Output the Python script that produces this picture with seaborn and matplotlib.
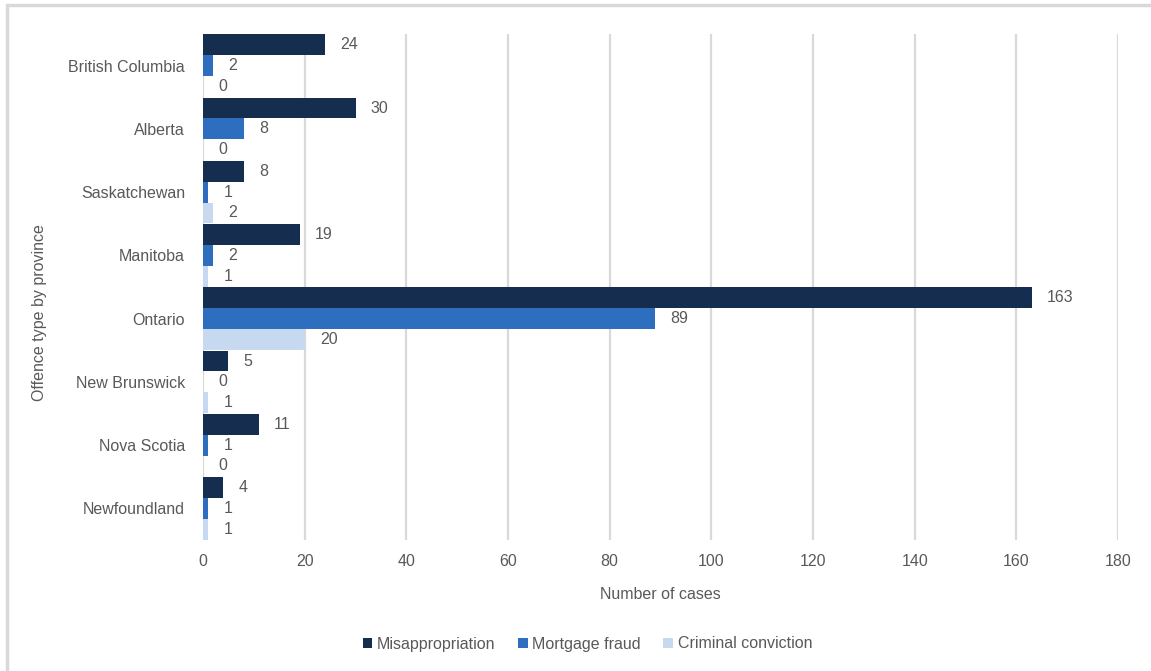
import matplotlib
matplotlib.use("Agg")
import matplotlib.pyplot as plt
import seaborn as sns
import pandas as pd
from matplotlib.patches import Rectangle

provinces = ["British Columbia", "Alberta", "Saskatchewan", "Manitoba", "Ontario",
             "New Brunswick", "Nova Scotia", "Newfoundland"]
misappropriation = [24, 30, 8, 19, 163, 5, 11, 4]
mortgage_fraud = [2, 8, 1, 2, 89, 0, 1, 1]
criminal_conviction = [0, 0, 2, 1, 20, 1, 0, 1]
series_names = ["Misappropriation", "Mortgage fraud", "Criminal conviction"]
colors = ["#152E4F", "#2E6EBE", "#C6D9F0"]
x_ticks = [0, 20, 40, 60, 80, 100, 120, 140, 160, 180]

rows = []
for name, vals in zip(series_names, [misappropriation, mortgage_fraud, criminal_conviction]):
    for p, v in zip(provinces, vals):
        rows.append({"Province": p, "Offence": name, "Cases": v})
df = pd.DataFrame(rows)

sns.set_theme(style="white")
plt.rcParams["font.family"] = ["Liberation Sans", "DejaVu Sans"]
text_color = "#595959"
fs = 11.5

fig = plt.figure(figsize=(11.51, 6.71), dpi=100)
ax = fig.add_axes([203/1151, 1-540/671, (1118-203)/1151, (540-34)/671])

sns.barplot(data=df, y="Province", x="Cases", hue="Offence", order=provinces,
            hue_order=series_names, palette=colors, orient="h", width=0.985,
            errorbar=None, saturation=1, ax=ax, legend=True, linewidth=0)

for c in ax.containers:
    ax.bar_label(c, padding=11, fontsize=fs, color=text_color)

ax.set_xlim(0, 180)
ax.set_xticks(x_ticks)
ax.xaxis.grid(True, color="#D9D9D9", linewidth=1.6)
ax.yaxis.grid(False)
ax.set_axisbelow(True)
for s in ax.spines.values():
    s.set_visible(False)
ax.tick_params(axis="y", length=0, pad=13, labelsize=fs, labelcolor=text_color)
ax.tick_params(axis="x", length=0, pad=10, labelsize=fs, labelcolor=text_color)
ax.set_xlabel("Number of cases", fontsize=fs, color=text_color, labelpad=13)
ax.set_ylabel("Offence type by province", fontsize=fs, color=text_color)
ax.yaxis.set_label_coords(-(203-47)/915, 0.45)

handles, labels = ax.get_legend_handles_labels()
ax.legend_.remove()
fig.legend(handles, labels, loc="center", bbox_to_anchor=(587.5/1151, 1-644/671), ncol=3,
           frameon=False, fontsize=fs, handlelength=0.6, handleheight=0.6,
           handletextpad=0.3, columnspacing=1.4, labelcolor=text_color)

fig.patches.append(Rectangle((7/1151, -0.1), 1.2, 1-5/671+0.1, transform=fig.transFigure,
                             fill=False, edgecolor="#D9D9D9", linewidth=2.5, zorder=0))

fig.savefig("out.png", dpi=100, facecolor="white")
